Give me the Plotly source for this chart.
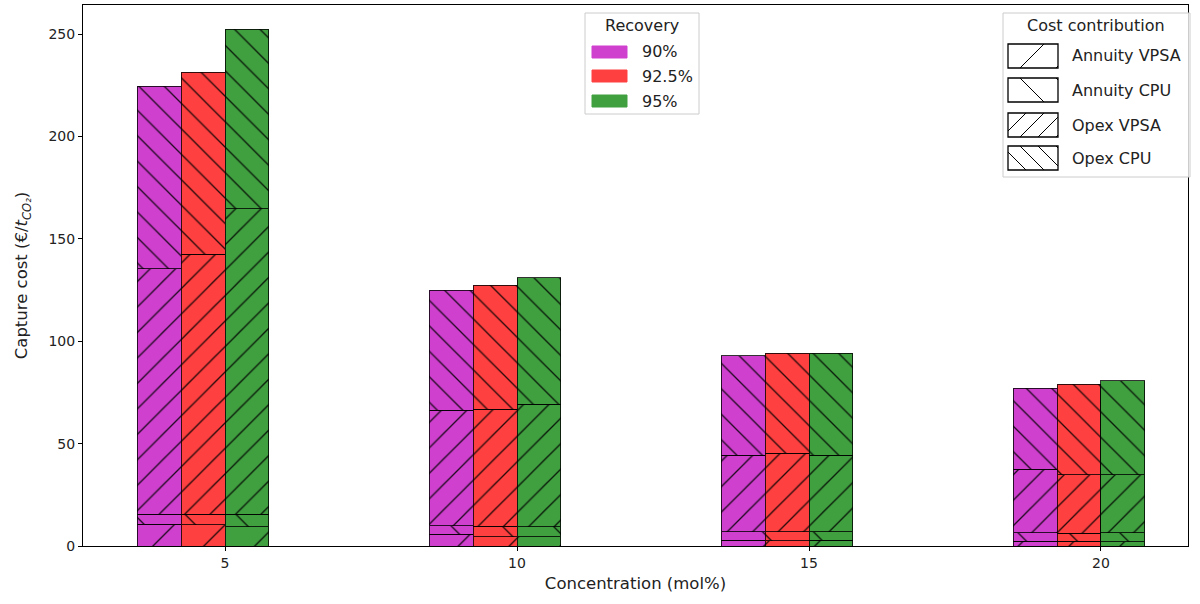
import plotly.graph_objects as go

# CO2 concentration in the feed (mol%)
concentrations = [5, 10, 15, 20]

# Recovery levels and their bar colours
recoveries = ["90%", "92.5%", "95%"]
recovery_colors = ["#cf40cf", "#ff4040", "#40a040"]

# Cost contributions (€/t CO2), one list per recovery, ordered by concentration
annuity_vpsa = {
    "90%":   [10.6, 5.7, 2.9, 2.4],
    "92.5%": [10.3, 4.5, 2.6, 2.4],
    "95%":   [9.3, 4.4, 2.9, 2.0],
}
annuity_cpu = {
    "90%":   [4.9, 4.1, 4.1, 4.1],
    "92.5%": [5.2, 5.1, 4.4, 3.8],
    "95%":   [6.3, 4.9, 4.1, 4.5],
}
opex_vpsa = {
    "90%":   [119.8, 56.6, 37.4, 31.1],
    "92.5%": [127.1, 57.3, 38.4, 28.5],
    "95%":   [149.0, 60.0, 37.4, 28.2],
}
opex_cpu = {
    "90%":   [89.3, 58.6, 48.4, 39.5],
    "92.5%": [88.8, 60.5, 48.8, 44.4],
    "95%":   [87.8, 61.6, 49.8, 45.9],
}

# name, values, hatch direction, hatch spacing (px)
contributions = [
    ("Annuity VPSA", annuity_vpsa, "/", 36),
    ("Annuity CPU", annuity_cpu, "\\", 36),
    ("Opex VPSA", opex_vpsa, "/", 18),
    ("Opex CPU", opex_cpu, "\\", 18),
]

bar_width = 0.75
group_offsets = [-1.5 * bar_width, -0.5 * bar_width, 0.5 * bar_width]

FONT = "DejaVu Sans"
FS_TICK = 14
FS_LABEL = 16.5
FS_LEG = 16
TEXT = "#222222"

W, H = 1200, 604
M_L, M_R, M_T, M_B = 83, 12, 5, 58
PLOT_W = W - M_L - M_R
PLOT_H = H - M_T - M_B


def px(x):
    """Figure pixel column -> paper x."""
    return (x - M_L) / PLOT_W


def py(y):
    """Figure pixel row -> paper y."""
    return 1 - (y - M_T) / PLOT_H


fig = go.Figure()

edge = dict(color="rgba(0,0,0,0.8)", width=1)
for rec, color, off in zip(recoveries, recovery_colors, group_offsets):
    xs = [c + off for c in concentrations]
    for name, table, shape, size in contributions:
        fig.add_trace(go.Bar(
            x=xs,
            y=table[rec],
            width=bar_width,
            marker=dict(
                color=color,
                line=edge,
                pattern=dict(shape=shape, size=size,
                             solidity=0.075 * 18 / size,
                             fgcolor="#000000", fgopacity=0.85,
                             bgcolor=color, fillmode="replace"),
            ),
            showlegend=False,
            hoverinfo="skip",
        ))


# ---- hand-built legends (matplotlib style boxes) ----
shapes = []
annotations = []


def legend_frame(x0, y0, x1, y1):
    shapes.append(dict(type="rect", xref="paper", yref="paper",
                       x0=px(x0), x1=px(x1), y0=py(y1), y1=py(y0),
                       line=dict(color="#cccccc", width=1),
                       fillcolor="rgba(255,255,255,0.8)", layer="above"))


def legend_text(x, y, text, anchor="left"):
    annotations.append(dict(xref="paper", yref="paper", x=px(x), y=py(y),
                            text=text, showarrow=False, xanchor=anchor,
                            yanchor="middle",
                            font=dict(family=FONT, size=FS_LEG, color=TEXT)))


def hatch_path(x0, y0, x1, y1, direction, spacing):
    """Clipped diagonal hatch lines inside a pixel box, as an SVG path in paper coords."""
    segs = []
    w, h = x1 - x0, y1 - y0
    k = -int(h // spacing) - 1
    while k * spacing <= w + h:
        c = k * spacing
        pts = []
        # lines u + v = c with u, v measured from the top-left corner ('/')
        for u in (0.0, w):
            v = c - u
            if 0 <= v <= h:
                pts.append((u, v))
        for v in (0.0, h):
            u = c - v
            if 0 <= u <= w:
                pts.append((u, v))
        pts = sorted(set(pts))
        if len(pts) >= 2 and pts[0] != pts[-1]:
            (ua, va), (ub, vb) = pts[0], pts[-1]
            if direction == "\\":
                va, vb = h - va, h - vb
            segs.append(f"M{px(x0 + ua)},{py(y0 + va)} L{px(x0 + ub)},{py(y0 + vb)}")
        k += 1
    return " ".join(segs)


# Recovery legend
legend_frame(585, 13, 699, 114)
legend_text(642, 25, "Recovery", anchor="center")
rec_rows = [52, 76, 101]
for rec, color, yc in zip(recoveries, recovery_colors, rec_rows):
    shapes.append(dict(type="rect", xref="paper", yref="paper",
                       x0=px(592), x1=px(627), y0=py(yc + 6), y1=py(yc - 6),
                       line=dict(color=color, width=1), fillcolor=color,
                       layer="above"))
    legend_text(640, yc, rec)

# Cost contribution legend
legend_frame(1003, 13, 1190, 177)
legend_text(1096, 25, "Cost contribution", anchor="center")
cost_rows = [56, 90, 125, 158]
for (name, _, shape, size), yc in zip(contributions, cost_rows):
    bx0, bx1, by0, by1 = 1008, 1058, yc - 12, yc + 12
    shapes.append(dict(type="rect", xref="paper", yref="paper",
                       x0=px(bx0), x1=px(bx1), y0=py(by1), y1=py(by0),
                       line=dict(color="black", width=1.3),
                       fillcolor="white", layer="above"))
    shapes.append(dict(type="path", xref="paper", yref="paper",
                       path=hatch_path(bx0, by0, bx1, by1, shape, size),
                       line=dict(color="black", width=1), layer="above"))
    legend_text(1070, yc, name)

axis_common = dict(
    showline=True, linecolor="black", linewidth=1, mirror=True,
    ticks="outside", ticklen=4, tickcolor="black",
    showgrid=False, zeroline=False,
    tickfont=dict(family=FONT, size=FS_TICK, color=TEXT),
)

fig.update_layout(
    width=W, height=H,
    margin=dict(l=M_L, r=M_R, t=M_T, b=M_B),
    paper_bgcolor="white", plot_bgcolor="white",
    barmode="stack",
    showlegend=False,
    font=dict(family=FONT, size=FS_TICK, color=TEXT),
    xaxis=dict(
        range=[2.568, 21.49],
        tickvals=concentrations,
        title=dict(text="Concentration (mol%)", standoff=7,
                   font=dict(family=FONT, size=FS_LABEL, color=TEXT)),
        **axis_common,
    ),
    yaxis=dict(
        range=[0, 264.2],
        tickvals=[0, 50, 100, 150, 200, 250],
        title=dict(text="Capture cost (€/<i>t</i><sub><i>CO₂</i></sub>)",
                   standoff=16, font=dict(family=FONT, size=FS_LABEL, color=TEXT)),
        **axis_common,
    ),
    shapes=shapes,
    annotations=annotations,
)

fig.write_html("out.html")
